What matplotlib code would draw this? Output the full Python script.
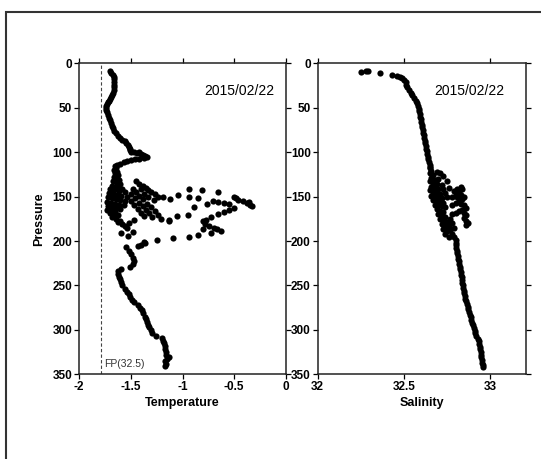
import matplotlib.pyplot as plt
from matplotlib.patches import Rectangle
import numpy as np

plt.rcParams['font.family'] = ['Liberation Sans', 'DejaVu Sans']

# temperature profile, (temperature, pressure) pairs
temp_upper = [(-1.70, 9), (-1.69, 11), (-1.67, 13), (-1.66, 15), (-1.66, 18), (-1.66, 21), (-1.66, 24),
              (-1.66, 27), (-1.66, 30), (-1.67, 33), (-1.68, 36), (-1.69, 38), (-1.70, 40), (-1.71, 42),
              (-1.72, 44), (-1.73, 46), (-1.74, 48), (-1.74, 50), (-1.74, 52), (-1.73, 55), (-1.72, 58),
              (-1.71, 61), (-1.70, 64), (-1.69, 67), (-1.68, 70), (-1.67, 73), (-1.66, 76), (-1.64, 79),
              (-1.62, 82), (-1.60, 84), (-1.58, 86), (-1.56, 88), (-1.55, 90), (-1.53, 92), (-1.52, 94),
              (-1.51, 96), (-1.51, 98), (-1.50, 100)]
temp_spray = [(-1.47, 100), (-1.44, 101), (-1.42, 100), (-1.40, 102), (-1.38, 103), (-1.36, 104),
              (-1.34, 106), (-1.37, 107), (-1.42, 108), (-1.46, 108), (-1.50, 109), (-1.54, 110),
              (-1.57, 111), (-1.60, 113)]
temp_blob = [(-1.63, 114), (-1.65, 116), (-1.64, 118), (-1.66, 120), (-1.63, 122), (-1.65, 124),
             (-1.62, 126), (-1.66, 128), (-1.64, 130), (-1.61, 131), (-1.67, 133), (-1.63, 135),
             (-1.60, 136), (-1.68, 138), (-1.65, 139), (-1.62, 140), (-1.58, 141), (-1.70, 142),
             (-1.66, 143), (-1.61, 144), (-1.56, 145), (-1.71, 146), (-1.67, 147), (-1.63, 148),
             (-1.59, 149), (-1.54, 150), (-1.72, 151), (-1.68, 152), (-1.64, 153), (-1.60, 154),
             (-1.56, 155), (-1.73, 156), (-1.69, 157), (-1.65, 158), (-1.61, 159), (-1.57, 160),
             (-1.72, 161), (-1.68, 162), (-1.64, 163), (-1.60, 164), (-1.73, 165), (-1.69, 166),
             (-1.65, 167), (-1.70, 168), (-1.66, 170), (-1.62, 171), (-1.68, 173), (-1.64, 175),
             (-1.60, 177), (-1.62, 179), (-1.58, 181), (-1.56, 183), (-1.54, 185)]
temp_mid = [(-1.45, 133), (-1.42, 136), (-1.38, 138), (-1.35, 140), (-1.48, 141), (-1.40, 142),
            (-1.33, 143), (-1.30, 145), (-1.45, 145), (-1.50, 147), (-1.37, 147), (-1.27, 147),
            (-1.42, 149), (-1.33, 150), (-1.24, 151), (-1.46, 152), (-1.38, 153), (-1.28, 154),
            (-1.19, 150), (-1.50, 155), (-1.42, 157), (-1.34, 158), (-1.47, 160), (-1.38, 161),
            (-1.30, 162), (-1.43, 164), (-1.35, 165), (-1.27, 166), (-1.40, 168), (-1.32, 169),
            (-1.24, 171), (-1.37, 172), (-1.29, 173), (-1.21, 175), (-1.13, 176), (-1.47, 176),
            (-1.52, 180)]
temp_far = [(-1.12, 153), (-1.04, 148), (-0.94, 141), (-0.94, 151), (-0.85, 152), (-0.81, 143),
            (-0.76, 158), (-0.71, 155), (-0.66, 145), (-0.66, 156), (-0.60, 157), (-0.55, 158),
            (-0.50, 150), (-0.48, 152), (-0.46, 154), (-0.42, 155), (-0.38, 157), (-0.35, 159),
            (-0.33, 161), (-0.36, 156), (-0.50, 163), (-0.55, 165), (-0.60, 167), (-0.66, 170),
            (-0.72, 173), (-0.77, 176), (-0.80, 178), (-0.78, 181), (-0.74, 183), (-0.70, 185),
            (-0.67, 187), (-0.63, 189), (-0.72, 191), (-0.80, 186), (-0.85, 193), (-0.94, 195),
            (-1.09, 197), (-1.25, 199), (-0.95, 171), (-0.89, 162), (-1.13, 177), (-1.05, 172),
            (-1.48, 190), (-1.59, 191), (-1.53, 194), (-1.37, 201), (-1.36, 202), (-1.40, 204),
            (-1.43, 206)]
temp_lower = [(-1.55, 207), (-1.52, 211), (-1.50, 215), (-1.48, 219), (-1.47, 223), (-1.48, 226),
              (-1.51, 229), (-1.59, 231), (-1.62, 234), (-1.62, 237), (-1.61, 240), (-1.60, 243),
              (-1.59, 246), (-1.58, 250), (-1.56, 254), (-1.54, 257), (-1.52, 260), (-1.51, 263),
              (-1.49, 266), (-1.47, 269), (-1.43, 272), (-1.41, 275), (-1.39, 278), (-1.38, 281),
              (-1.36, 285), (-1.35, 288), (-1.34, 291), (-1.33, 294), (-1.32, 297), (-1.30, 300),
              (-1.29, 303), (-1.26, 307), (-1.20, 309), (-1.19, 312), (-1.18, 315), (-1.17, 318),
              (-1.17, 322), (-1.16, 325), (-1.16, 328), (-1.13, 330), (-1.15, 333), (-1.17, 335),
              (-1.16, 338), (-1.17, 341)]

# salinity profile, (salinity, pressure) pairs
sal_upper = [(32.25, 10), (32.28, 9), (32.29, 8.5), (32.36, 11), (32.43, 13), (32.46, 14), (32.48, 15),
             (32.49, 17), (32.50, 19), (32.51, 21), (32.515, 24), (32.52, 27), (32.53, 30), (32.54, 33),
             (32.55, 36), (32.56, 39), (32.57, 42), (32.575, 45), (32.58, 48), (32.585, 51), (32.59, 54),
             (32.592, 57), (32.595, 60), (32.598, 63), (32.60, 66), (32.603, 69), (32.606, 72),
             (32.61, 75), (32.613, 78), (32.616, 81), (32.619, 84), (32.622, 87), (32.625, 90),
             (32.628, 93), (32.631, 96), (32.634, 99), (32.637, 102), (32.64, 105), (32.643, 108),
             (32.646, 111), (32.649, 114), (32.652, 117)]
sal_blob = [(32.65, 118), (32.66, 121), (32.65, 124), (32.67, 126), (32.69, 122), (32.71, 124),
            (32.73, 127), (32.66, 129), (32.68, 131), (32.70, 130), (32.75, 132), (32.65, 133),
            (32.67, 135), (32.69, 136), (32.72, 137), (32.66, 139), (32.68, 140), (32.70, 141),
            (32.73, 142), (32.76, 140), (32.65, 143), (32.67, 145), (32.69, 146), (32.71, 147),
            (32.74, 146), (32.66, 149), (32.68, 150), (32.70, 151), (32.72, 152), (32.75, 150),
            (32.67, 154), (32.69, 155), (32.71, 156), (32.73, 157), (32.68, 159), (32.70, 160),
            (32.72, 161), (32.74, 162), (32.69, 164), (32.71, 166), (32.73, 167), (32.70, 170),
            (32.72, 172), (32.74, 173), (32.71, 175), (32.73, 177), (32.75, 179), (32.72, 181),
            (32.74, 183), (32.76, 185), (32.73, 187), (32.75, 189), (32.74, 192), (32.76, 195),
            (32.77, 188), (32.76, 182)]
sal_branch = [(32.79, 144), (32.81, 141), (32.83, 139), (32.84, 141), (32.82, 145), (32.80, 148),
              (32.78, 151), (32.81, 150), (32.83, 148), (32.85, 150), (32.84, 153), (32.82, 155),
              (32.80, 157), (32.78, 159), (32.83, 158), (32.85, 160), (32.86, 163), (32.84, 165),
              (32.82, 166), (32.80, 168), (32.78, 170), (32.85, 168), (32.86, 171), (32.85, 174),
              (32.86, 177), (32.87, 180), (32.86, 182), (32.77, 175), (32.78, 180), (32.79, 185),
              (32.78, 192)]
sal_lower = [(32.79, 196), (32.80, 199), (32.80, 202), (32.80, 205), (32.805, 208), (32.81, 211),
             (32.81, 214), (32.812, 217), (32.815, 220), (32.82, 223), (32.82, 226), (32.823, 229),
             (32.826, 232), (32.83, 235), (32.832, 238), (32.835, 241), (32.838, 244), (32.84, 247),
             (32.842, 250), (32.845, 253), (32.848, 256), (32.85, 259), (32.852, 262), (32.855, 265),
             (32.86, 268), (32.866, 271), (32.87, 274), (32.875, 277), (32.88, 280), (32.884, 283),
             (32.888, 286), (32.892, 289), (32.896, 292), (32.90, 295), (32.905, 298), (32.91, 301),
             (32.915, 304), (32.92, 307), (32.93, 310), (32.935, 313), (32.938, 316), (32.94, 319),
             (32.942, 322), (32.945, 325), (32.948, 328), (32.95, 331), (32.953, 334), (32.955, 337),
             (32.958, 340), (32.96, 342)]

date_label = "2015/02/22"
fp_temp = -1.79
pressure_ticks = [0, 50, 100, 150, 200, 250, 300, 350]
temp_ticks = [-2, -1.5, -1, -0.5, 0]
sal_ticks = [32, 32.5, 33]

temp = np.array(temp_upper + temp_spray + temp_blob + temp_mid + temp_far + temp_lower)
sal = np.array(sal_upper + sal_blob + sal_branch + sal_lower)

fig = plt.figure(figsize=(5.41, 4.59), dpi=100)
# outer frame, runs off the right and bottom edge
fig.patches.append(Rectangle((6 / 541, -0.2), 1.2, 1.2 - 12 / 459, transform=fig.transFigure,
                             fill=False, edgecolor='#333333', linewidth=1.5))

ax1 = fig.add_axes([79 / 541, 1 - 374.3 / 459, 207 / 541, 311 / 459])
ax2 = fig.add_axes([317.7 / 541, 1 - 374.3 / 459, 208.5 / 541, 311 / 459])

ax1.scatter(temp[:, 0], temp[:, 1], s=20, color='black', linewidths=0, zorder=3)
ax1.axvline(fp_temp, color='#444444', linestyle='--', linewidth=0.8, dashes=(3, 2))
ax1.text(fp_temp + 0.03, 344, "FP(32.5)", fontsize=7.5, color='#333333', va='bottom', ha='left')
ax1.set_xlim(-2, 0)
ax1.set_xticks(temp_ticks)
ax1.set_xticklabels(['-2', '-1.5', '-1', '-0.5', '0'])
ax1.set_xlabel("Temperature", fontsize=9, fontweight='bold', labelpad=3)
ax1.set_ylabel("Pressure", fontsize=9, fontweight='bold', labelpad=5)

ax2.scatter(sal[:, 0], sal[:, 1], s=20, color='black', linewidths=0, zorder=3)
ax2.set_xlim(32, 33.21)
ax2.set_xticks(sal_ticks)
ax2.set_xticklabels(['32', '32.5', '33'])
ax2.set_xlabel("Salinity", fontsize=9, fontweight='bold', labelpad=3)

for ax, tx in [(ax1, 0.945), (ax2, 0.895)]:
    ax.set_ylim(350, 0)
    ax.set_yticks(pressure_ticks)
    ax.tick_params(direction='out', length=3.5, width=0.9, top=True, right=True,
                   labelsize=8.5, pad=1.5)
    for lab in ax.get_xticklabels() + ax.get_yticklabels():
        lab.set_fontweight('bold')
    for sp in ax.spines.values():
        sp.set_linewidth(1.1)
        sp.set_color('#222222')
    ax.text(tx, 0.912, date_label, transform=ax.transAxes, ha='right', va='center', fontsize=10)

fig.savefig("out.png", dpi=100)
